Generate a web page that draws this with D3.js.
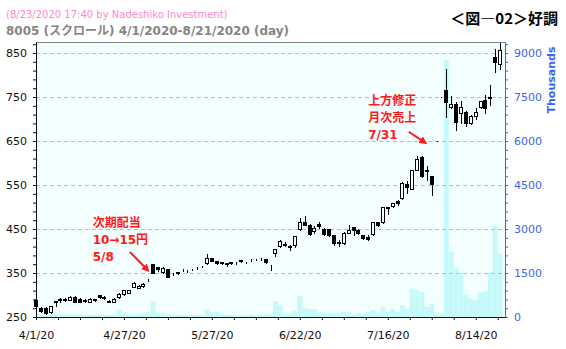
<!DOCTYPE html>
<html>
<head>
<meta charset="utf-8">
<script src="https://cdn.jsdelivr.net/npm/d3@7"></script>
<style>
  body { margin: 0; background: #fff; }
  svg { display: block; }
  text { font-family: "DejaVu Sans", Verdana, "Noto Sans CJK JP", sans-serif; }
</style>
</head>
<body>
<div id="chart"></div>
<script>
// trading days 4/1/2020 - 8/21/2020
var dates = [
  "4/1","4/2","4/3","4/6","4/7","4/8","4/9","4/10","4/13","4/14",
  "4/15","4/16","4/17","4/20","4/21","4/22","4/23","4/24","4/27","4/28",
  "4/30","5/1","5/7","5/8","5/11","5/12","5/13","5/14","5/15","5/18",
  "5/19","5/20","5/21","5/22","5/25","5/26","5/27","5/28","5/29","6/1",
  "6/2","6/3","6/4","6/5","6/8","6/9","6/10","6/11","6/12","6/15",
  "6/16","6/17","6/18","6/19","6/22","6/23","6/24","6/25","6/26","6/29",
  "6/30","7/1","7/2","7/3","7/6","7/7","7/8","7/9","7/10","7/13",
  "7/14","7/15","7/16","7/17","7/20","7/21","7/22","7/27","7/28","7/29",
  "7/30","7/31","8/3","8/4","8/5","8/6","8/7","8/11","8/12","8/13",
  "8/14","8/17","8/18","8/19","8/20","8/21"
];
var opens = [
  288,270,271,262,286,290,289,289,296,292, 288,285,290,300,296,287,284,295,302,305,
  319,316,320,334,370,363,352,358,350,352, 356,357,358,363,366,372,383,377,373,372,
  374,375,378,375,381,381,381,382,360,396, 412,417,412,414,450,466,459,446,461,451,
  449,436,420,418,442,454,448,436,431,438, 465,465,499,502,514,520,552,542,585,613,
  583,570,650,750,766,728,733,714,717,692, 707,728,743,748,841,825
];
var highs = [
  292,273,272,276,287,293,293,297,297,293, 290,293,292,301,298,288,293,305,312,312,
  329,322,327,337,371,364,363,358,350,352, 359,357,360,364,367,393,384,378,375,373,
  375,376,379,376,382,382,384,382,368,405, 424,420,413,435,475,480,462,457,465,452,
  450,437,426,443,459,455,449,437,437,466, 467,500,500,510,517,556,558,585,615,615,
  593,571,650,750,813,752,739,742,718,710, 724,742,755,777,858,872
];
var lows = [
  270,262,256,258,274,285,286,288,283,284, 285,284,287,293,292,283,283,293,300,304,
  318,315,319,331,350,355,350,340,345,347, 354,352,356,359,363,371,377,371,370,367,
  371,371,375,372,378,379,380,373,357,389, 410,412,402,409,447,458,436,441,452,437,
  434,413,412,416,440,436,439,428,426,436, 457,464,483,500,505,518,531,540,583,568,
  561,527,650,750,704,724,676,690,684,688, 700,726,714,732,807,813
];
var closes = [
  274,264,260,275,285,289,290,296,284,285, 287,292,289,295,293,285,292,303,311,311,
  328,320,326,335,351,359,361,341,349,351, 357,356,359,364,365,383,378,373,374,371,
  372,375,379,376,381,381,382,374,358,404, 423,414,410,434,465,460,439,453,457,439,
  436,419,419,442,448,448,440,429,427,465, 459,499,498,508,508,555,546,584,610,570,
  581,552,650,750,738,733,694,728,692,707, 717,741,724,749,830,857
];
// volume, thousands of shares
var volumes = [
  125,80,70,100,80,80,80,100,80,80, 70,70,70,70,80,70,70,240,150,100,
  80,100,125,180,520,150,125,100,70,70, 60,60,70,70,80,270,150,170,100,70,
  70,60,60,60,70,70,70,90,100,545, 385,100,100,200,715,320,270,270,150,125,
  150,125,150,170,150,70,125,100,170,240, 125,340,170,270,170,400,280,970,910,850,
  340,450,110,130,8760,2215,1650,1480,775,630, 570,850,880,1530,3090,2160
];
var priceTicks = [250, 350, 450, 550, 650, 750, 850];
var volumeTicks = [0, 1500, 3000, 4500, 6000, 7500, 9000];
var labelEvery = 18;

// notes: [day index, price] for text and arrow
var notes = [
  { lines: ["次期配当", "10→15円", "5/8"], at: [11.6, 454], from: [19.2, 398], to: [23, 355] },
  { lines: ["上方修正", "月次売上", "7/31"], at: [68, 732], from: [76.3, 671], to: [79.8, 645] }
];

var width = 566, height = 349;
var plotL = 36, plotR = 505, plotT = 42, plotB = 317;

var x = d3.scaleLinear().domain([0, 96]).range([plotL, plotR]);
var y = d3.scaleLinear().domain([250, 875]).range([plotB, plotT]);
var yv = d3.scaleLinear().domain([0, 9375]).range([plotB, plotT]);

var svg = d3.select("#chart").append("svg")
  .attr("width", width)
  .attr("height", height);

var defs = svg.append("defs");
defs.append("clipPath").attr("id", "plot")
  .append("rect").attr("x", plotL).attr("y", plotT)
  .attr("width", plotR - plotL).attr("height", plotB - plotT);

var marker = defs.append("marker")
  .attr("id", "arrow").attr("viewBox", "0 0 10 10")
  .attr("refX", 8).attr("refY", 5)
  .attr("markerWidth", 4).attr("markerHeight", 4)
  .attr("orient", "auto");
marker.append("path").attr("d", "M0,0L10,5L0,10z").attr("fill", "#ff1a1a");

// plot background
svg.append("rect")
  .attr("x", plotL).attr("y", plotT)
  .attr("width", plotR - plotL).attr("height", plotB - plotT)
  .attr("fill", "#f3fffe");

// volume
var step = x(1) - x(0);
svg.append("g").attr("clip-path", "url(#plot)")
  .selectAll("rect").data(volumes).enter().append("rect")
  .attr("x", function(d, i) { return x(i) - step / 2; })
  .attr("width", step)
  .attr("y", function(d) { return yv(d); })
  .attr("height", function(d) { return yv(0) - yv(d); })
  .attr("fill", "#c6fafa");

// grid
svg.append("g").selectAll("line")
  .data(priceTicks.filter(function(d) { return d > 250; }))
  .enter().append("line")
  .attr("x1", plotL).attr("x2", plotR)
  .attr("y1", function(d) { return Math.round(y(d)) + 0.5; })
  .attr("y2", function(d) { return Math.round(y(d)) + 0.5; })
  .attr("stroke", "#bdbdbd")
  .attr("stroke-dasharray", "4,3");

// top border
svg.append("line")
  .attr("x1", plotL).attr("x2", plotR)
  .attr("y1", plotT + 0.5).attr("y2", plotT + 0.5)
  .attr("stroke", "#808080");

// axes
function styleAxis(g, color, size) {
  g.select(".domain").attr("stroke", color);
  g.selectAll(".tick line").attr("stroke", color);
  g.selectAll(".tick text").attr("fill", color)
    .style("font-size", size + "px")
    .style("font-family", "'DejaVu Sans', Verdana, sans-serif");
}

var minorPrice = d3.range(270, 875, 20).filter(function(d) { return (d - 250) % 100 !== 0; });
svg.append("g").attr("transform", "translate(" + plotL + ",0)")
  .call(d3.axisLeft(y).tickValues(minorPrice).tickSize(3).tickSizeOuter(0).tickFormat(""))
  .call(styleAxis, "#111", 11);
svg.append("g").attr("transform", "translate(" + plotL + ",0)")
  .call(d3.axisLeft(y).tickValues(priceTicks).tickSize(3).tickSizeOuter(0).tickPadding(6))
  .call(styleAxis, "#111", 11);

var minorVol = d3.range(300, 9375, 300).filter(function(d) { return d % 1500 !== 0; });
svg.append("g").attr("transform", "translate(" + plotR + ",0)")
  .call(d3.axisRight(yv).tickValues(minorVol).tickSize(3).tickSizeOuter(0).tickFormat(""))
  .call(styleAxis, "#3d63f0", 11);
svg.append("g").attr("transform", "translate(" + plotR + ",0)")
  .call(d3.axisRight(yv).tickValues(volumeTicks).tickSize(3).tickSizeOuter(0).tickPadding(6)
    .tickFormat(d3.format("d")))
  .call(styleAxis, "#3d63f0", 11);

var xTicks = d3.range(0, dates.length, labelEvery / 4);
svg.append("g").attr("transform", "translate(0," + plotB + ")")
  .call(d3.axisBottom(x).tickValues(xTicks).tickSize(3).tickSizeOuter(0).tickPadding(11)
    .tickFormat(function(d) { return d % labelEvery === 0 ? dates[d] + "/20" : ""; }))
  .call(styleAxis, "#111", 11);

// candles
var candles = svg.append("g").selectAll("g")
  .data(dates).enter().append("g");

candles.append("line")
  .attr("x1", function(d, i) { return Math.round(x(i)) + 0.5; })
  .attr("x2", function(d, i) { return Math.round(x(i)) + 0.5; })
  .attr("y1", function(d, i) { return Math.round(y(highs[i])); })
  .attr("y2", function(d, i) { return Math.round(y(lows[i])) + 1; })
  .attr("stroke", "#000");

candles.append("rect")
  .attr("x", function(d, i) { return Math.round(x(i)) - 1.5; })
  .attr("width", 3)
  .attr("y", function(d, i) { return Math.round(y(Math.max(opens[i], closes[i]))) + 0.5; })
  .attr("height", function(d, i) {
    return Math.max(0, Math.round(y(Math.min(opens[i], closes[i]))) - Math.round(y(Math.max(opens[i], closes[i]))));
  })
  .attr("fill", function(d, i) { return closes[i] >= opens[i] ? "#fff" : "#000"; })
  .attr("stroke", "#000");

// name / date header
svg.append("text").attr("x", 6).attr("y", 18)
  .attr("fill", "#ff88cc").style("font-size", "10px")
  .text("(8/23/2020 17:40 by Nadeshiko Investment)");
svg.append("text").attr("x", 6).attr("y", 35)
  .attr("fill", "#858585").style("font-size", "12px").style("font-weight", "bold")
  .text("8005 (スクロール) 4/1/2020-8/21/2020 (day)");
svg.append("text").attr("x", 558).attr("y", 24)
  .attr("text-anchor", "end").attr("fill", "#000")
  .style("font-size", "15px").style("font-weight", "bold")
  .style("font-family", "'Noto Sans CJK JP', sans-serif")
  .text("＜図―02＞好調");

svg.append("text")
  .attr("transform", "translate(555,80) rotate(-90)")
  .attr("text-anchor", "middle").attr("fill", "#3d63f0")
  .style("font-size", "11px").style("font-weight", "bold")
  .text("Thousands");

// notes
notes.forEach(function(n) {
  var t = svg.append("text")
    .attr("fill", "#ff1a1a").style("font-size", "12px").style("font-weight", "bold")
    .style("font-family", "'DejaVu Sans', 'Noto Sans CJK JP', sans-serif");
  n.lines.forEach(function(s, k) {
    t.append("tspan").attr("x", x(n.at[0])).attr("y", y(n.at[1]) + k * 17).text(s);
  });
  svg.append("line")
    .attr("x1", x(n.from[0])).attr("y1", y(n.from[1]))
    .attr("x2", x(n.to[0])).attr("y2", y(n.to[1]))
    .attr("stroke", "#ff1a1a").attr("stroke-width", 2)
    .attr("marker-end", "url(#arrow)");
});
</script>
</body>
</html>
